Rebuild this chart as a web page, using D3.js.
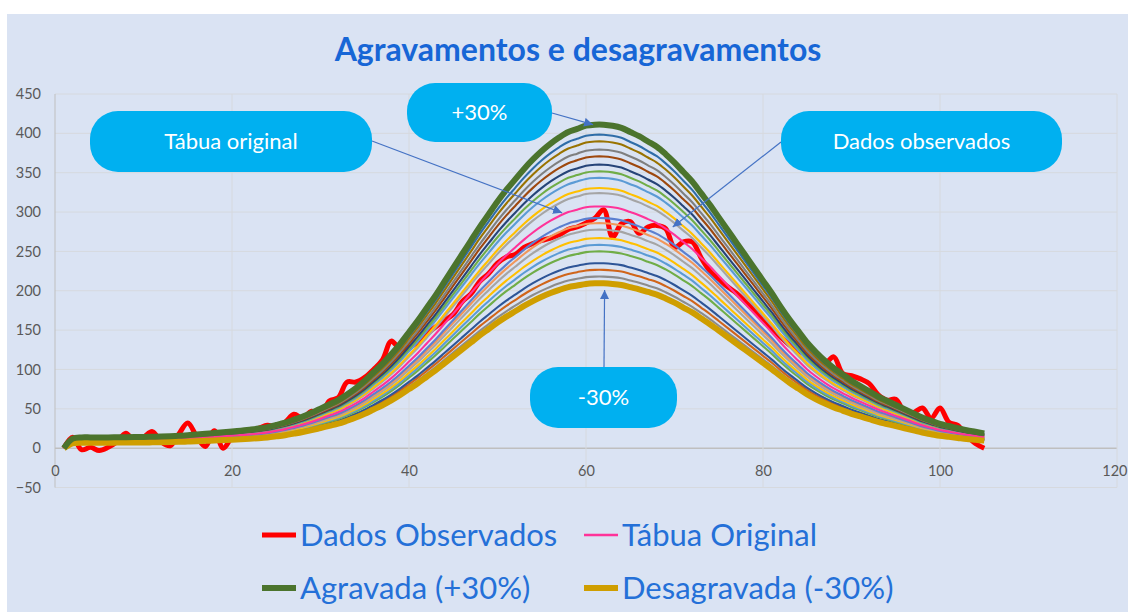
<!DOCTYPE html>
<html lang="pt">
<head>
  <meta charset="UTF-8">
  <title>Agravamentos e desagravamentos</title>
  <style>
    body { margin: 0; background: #fff; }
    svg { display: block; font-family: Lato, "Open Sans", sans-serif; }
  </style>
</head>
<body>
  <svg id="chart" width="1128" height="612"></svg>
  <script src="https://d3js.org/d3.v7.min.js"></script>
  <script>
    // idades 1..105
    const idades = d3.range(1, 106);

    // Tábua original
    const tabuaOriginal = [
      0, 9, 10.2, 10.2, 10.2, 10.2, 10.3, 10.4, 10.5, 10.6,
      10.8, 11, 11.3, 11.7, 12.3, 12.9, 13.6, 14.3, 15, 15.7,
      16.5, 17.5, 18.6, 20, 22, 24.2, 27, 30, 33.5, 37.5,
      41.5, 45.5, 51, 57, 64, 72, 80, 89, 99, 110,
      121, 133, 145, 158, 171, 184, 197, 210, 222, 234,
      245, 255, 265, 274, 282, 289, 295, 300, 303, 306,
      307, 307, 306, 304, 300, 296, 291, 286, 279, 271,
      262, 253, 242, 231, 219, 207, 195, 183, 171, 159,
      147, 134, 122, 111, 100, 91, 83, 76, 70, 64,
      59, 54, 49, 45, 41, 37, 33, 29, 26, 23,
      21, 19, 17, 15.5, 14
    ];

    // Dados observados
    const dadosObservados = [
      0, 14, -2, 1, -3, 1, 8, 19, 9, 14,
      21, 8, 3, 18, 32, 15, 2, 22, 0, 14,
      21, 22, 25, 29, 27, 33, 43, 38, 47, 43,
      60, 64, 84, 84, 90, 100, 112, 136, 126, 128,
      135, 145, 154, 162, 170, 186, 196, 212, 222, 235,
      243, 246, 255, 260, 264, 267, 271, 278, 281, 286,
      292, 303, 268, 285, 288, 273, 281, 283, 279, 255,
      262, 262, 242, 225, 215, 205, 197, 186, 175, 163,
      152, 141, 131, 124, 118, 112, 108, 116, 95, 92,
      88, 82, 68, 61, 62, 46, 45, 51, 38, 51,
      33, 29, 16, 6, 0
    ];

    // fatores de agravamento aplicados à tábua (de baixo para cima)
    const fatores = [0.682, 0.710, 0.738, 0.765, 0.814, 0.841, 0.869, 0.904, 0.931, 0.952,
                     1.055, 1.076, 1.118, 1.145, 1.173, 1.207, 1.235, 1.269, 1.297, 1.339];
    const coresFatores = ["#CF9E00", "#8C8C8C", "#D0651A", "#2E5597", "#70AD47", "#5B9BD5", "#FFC000", "#A5A5A5", "#F1975A", "#5B7FD0",
                          "#A5A5A5", "#FFC000", "#5B9BD5", "#70AD47", "#264478", "#9E480E", "#7F7F7F", "#997300", "#2F6DA8", "#4B742D"];

    const yTicks = [-50, 0, 50, 100, 150, 200, 250, 300, 350, 400, 450];
    const xTicks = [0, 20, 40, 60, 80, 100, 120];

    const legendaNomes = ["Dados Observados", "Tábua Original", "Agravada (+30%)", "Desagravada (-30%)"];
    const legendaCores = ["#FF0000", "#FF3399", "#4B742D", "#CF9E00"];

    const svg = d3.select("#chart");
    const W = 1128, H = 612;
    const margin = { top: 94, right: 10, bottom: 124.5, left: 55 };

    // fundo do gráfico
    svg.append("rect")
      .attr("x", 7).attr("y", 14)
      .attr("width", W - 7).attr("height", H - 14)
      .attr("fill", "#DAE3F3");

    const x = d3.scaleLinear().domain([0, 120]).range([margin.left, 1117]);
    const y = d3.scaleLinear().domain([-50, 450]).range([H - margin.bottom, margin.top]);

    // grelha
    svg.append("g").selectAll("line.h")
      .data(yTicks).enter().append("line")
      .attr("x1", x(0)).attr("x2", x(120))
      .attr("y1", d => y(d)).attr("y2", d => y(d))
      .attr("stroke", d => d === 0 ? "#BFBFBF" : "#D6D9DE")
      .attr("stroke-width", d => d === 0 ? 1.5 : 1);

    svg.append("g").selectAll("line.v")
      .data(xTicks).enter().append("line")
      .attr("x1", d => x(d)).attr("x2", d => x(d))
      .attr("y1", y(450)).attr("y2", y(-50))
      .attr("stroke", d => d === 0 ? "#BFBFBF" : "#D6D9DE")
      .attr("stroke-width", 1);

    // eixo Y
    const yAxis = svg.append("g")
      .attr("transform", `translate(${x(0) - 14},0)`)
      .call(d3.axisLeft(y).tickValues(yTicks).tickSize(0).tickPadding(0));
    yAxis.select(".domain").remove();
    yAxis.selectAll("text")
      .attr("fill", "#595959")
      .style("font-size", "14.5px")
      .style("font-family", "Lato, sans-serif");

    // eixo X (rótulos junto à linha do zero)
    const xAxis = svg.append("g")
      .attr("transform", `translate(0,${y(0) + 14})`)
      .call(d3.axisBottom(x).tickValues(xTicks).tickSize(0).tickPadding(4));
    xAxis.select(".domain").remove();
    xAxis.selectAll("text")
      .attr("fill", "#595959")
      .style("font-size", "14.5px")
      .style("font-family", "Lato, sans-serif");
    // último rótulo encostado à margem
    xAxis.selectAll(".tick").filter(d => d === 120).select("text")
      .attr("text-anchor", "end").attr("x", 10);

    const linha = d3.line()
      .x((d, i) => x(idades[i]))
      .y(d => y(d))
      .curve(d3.curveCatmullRom.alpha(0.5));

    const curvas = svg.append("g").attr("fill", "none");

    // dados observados (por baixo das curvas)
    curvas.append("path")
      .attr("d", linha(dadosObservados))
      .attr("stroke", "#FF0000")
      .attr("stroke-width", 5)
      .attr("stroke-linejoin", "round");

    // curvas agravadas/desagravadas (finas)
    fatores.forEach((f, k) => {
      if (k === 0 || k === fatores.length - 1) return;
      curvas.append("path")
        .attr("d", linha(tabuaOriginal.map(v => v * f)))
        .attr("stroke", coresFatores[k])
        .attr("stroke-width", 2.1);
    });

    // tábua original
    curvas.append("path")
      .attr("d", linha(tabuaOriginal))
      .attr("stroke", "#FF3399")
      .attr("stroke-width", 2.1);

    // extremos grossos
    curvas.append("path")
      .attr("d", linha(tabuaOriginal.map(v => v * fatores[0])))
      .attr("stroke", coresFatores[0])
      .attr("stroke-width", 6);
    curvas.append("path")
      .attr("d", linha(tabuaOriginal.map(v => v * fatores[fatores.length - 1])))
      .attr("stroke", coresFatores[fatores.length - 1])
      .attr("stroke-width", 6);

    // título
    svg.append("text")
      .attr("x", 578).attr("y", 61)
      .attr("text-anchor", "middle")
      .attr("fill", "#1766D6")
      .style("font-size", "32px")
      .style("font-weight", "bold")
      .text("Agravamentos e desagravamentos");

    // setas e balões
    svg.append("defs").append("marker")
      .attr("id", "seta")
      .attr("viewBox", "0 0 10 10")
      .attr("refX", 10).attr("refY", 5)
      .attr("markerWidth", 9).attr("markerHeight", 9)
      .attr("markerUnits", "userSpaceOnUse")
      .attr("orient", "auto")
      .append("path").attr("d", "M0,0 L10,5 L0,10 z").attr("fill", "#4472C4");

    const baloes = [
      { texto: "Tábua original", x0: 90, y0: 111, w: 282, h: 61, de: [372, 141], alvo: [57.3, 299] },
      { texto: "+30%", x0: 407, y0: 83, w: 145, h: 59, de: [552, 113], alvo: [60.8, 411] },
      { texto: "Dados observados", x0: 781, y0: 111, w: 281, h: 61, de: [781, 142], alvo: [69.8, 281] },
      { texto: "-30%", x0: 530, y0: 367, w: 147, h: 61, de: [604, 367], alvo: [62.1, 201] }
    ];

    const gb = svg.append("g");
    baloes.forEach(b => {
      gb.append("line")
        .attr("x1", b.de[0]).attr("y1", b.de[1])
        .attr("x2", x(b.alvo[0])).attr("y2", y(b.alvo[1]))
        .attr("stroke", "#4472C4").attr("stroke-width", 1.2)
        .attr("marker-end", "url(#seta)");
    });
    baloes.forEach(b => {
      gb.append("rect")
        .attr("x", b.x0).attr("y", b.y0)
        .attr("width", b.w).attr("height", b.h)
        .attr("rx", Math.min(28, b.h / 2))
        .attr("fill", "#00B0F0");
      gb.append("text")
        .attr("x", b.x0 + b.w / 2).attr("y", b.y0 + b.h / 2)
        .attr("dy", "0.35em")
        .attr("text-anchor", "middle")
        .attr("fill", "#fff")
        .style("font-size", "22px")
        .text(b.texto);
    });

    // legenda
    const posLeg = [[262, 535], [584, 535], [262, 588], [584, 588]];
    const larguras = [5, 2.5, 6, 6];
    const leg = svg.append("g");
    legendaNomes.forEach((nome, i) => {
      leg.append("line")
        .attr("x1", posLeg[i][0]).attr("x2", posLeg[i][0] + 34)
        .attr("y1", posLeg[i][1]).attr("y2", posLeg[i][1])
        .attr("stroke", legendaCores[i])
        .attr("stroke-width", larguras[i]);
      leg.append("text")
        .attr("x", posLeg[i][0] + 38).attr("y", posLeg[i][1])
        .attr("dy", "0.35em")
        .attr("fill", "#2470D8")
        .style("font-size", "31px")
        .text(nome);
    });
  </script>
</body>
</html>
